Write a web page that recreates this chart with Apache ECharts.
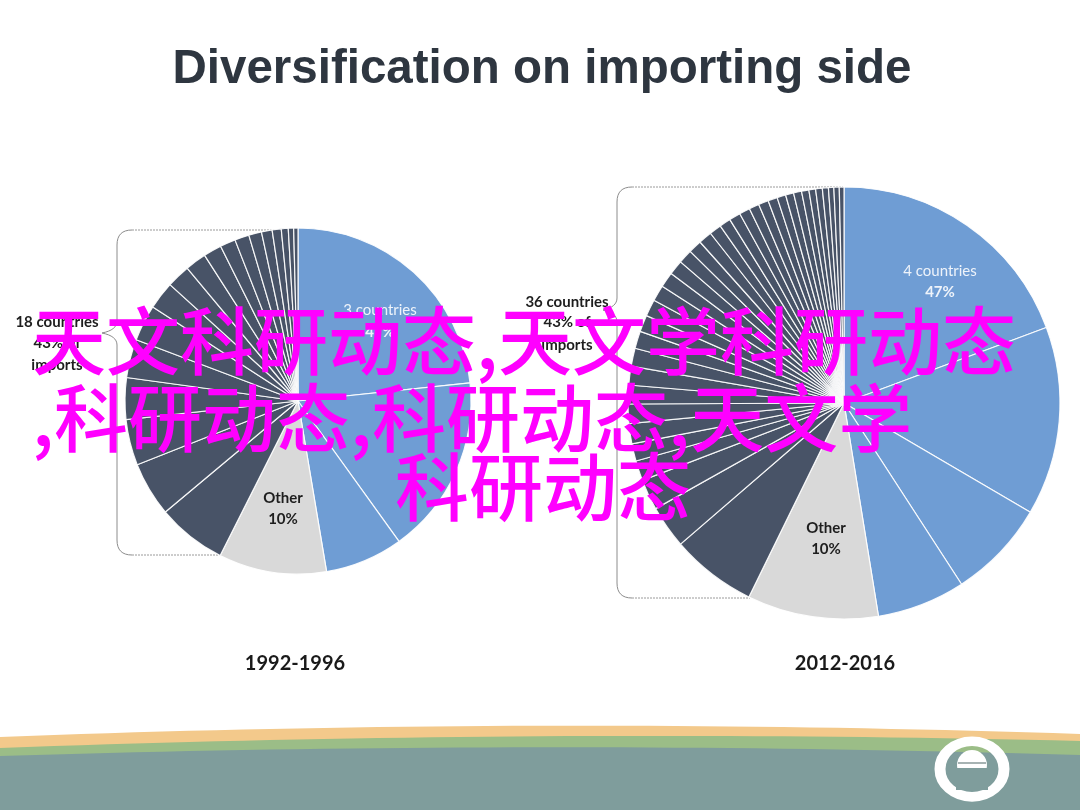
<!DOCTYPE html>
<html>
<head>
<meta charset="utf-8">
<script src="https://cdn.jsdelivr.net/npm/echarts@6/dist/echarts.min.js"></script>
<style>
  html, body { margin: 0; padding: 0; background: #ffffff; }
  #chart { width: 1080px; height: 810px; }
</style>
</head>
<body>
<div id="chart"></div>
<script>
// ---- Data (shares of imports, %) ----
const titleText = 'Diversification on importing side';
const periods = ['1992-1996', '2012-2016'];

// 1992-1996: top 3 countries (47%), Other (10%), 18 countries (43%)
const left_top = [23.4, 16.8, 7.3];
const left_other = [10.1];
const left_rest = [6.5, 5.1, 4.3, 3.9, 3.6, 3.4, 2.6, 2.2, 2.0, 1.7, 1.45, 1.35, 1.2, 1.0, 0.85, 0.65, 0.5, 0.4];

// 2012-2016: top 4 countries (47%), Other (10%), 36 countries (43%)
const right_top = [19.3, 14.1, 7.4, 6.6];
const right_other = [9.8];
const right_rest = [6.4, 3.2, 2.3, 1.5, 1.3, 1.5, 1.45, 1.4, 1.4, 1.35, 1.3, 1.25, 1.25, 1.2, 1.15, 1.1, 1.05, 1.0, 1.0, 0.9, 0.85, 0.85, 0.8, 0.75, 0.75, 0.7, 0.65, 0.6, 0.6, 0.55, 0.5, 0.5, 0.45, 0.4, 0.4, 0.35];

const leftLabels = { top: ['3 countries', '47%'], other: ['Other', '10%'], rest: ['18 countries', '43% of', 'imports'] };
const rightLabels = { top: ['4 countries', '47%'], other: ['Other', '10%'], rest: ['36 countries', '43% of', 'imports'] };

const watermark = ['天文科研动态,天文学科研动态', ',科研动态,科研动态,天文学', '科研动态'];

// ---- Styles ----
const BLUE = '#6f9dd4', GRAY = '#d9d9d9', DARK = '#485367';

function buildData(top, other, rest) {
  const d = [];
  top.forEach((v, i) => d.push({ name: 'top' + i, value: v, itemStyle: { color: BLUE } }));
  other.forEach((v, i) => d.push({ name: 'other' + i, value: v, itemStyle: { color: GRAY } }));
  rest.forEach((v, i) => d.push({ name: 'rest' + i, value: v, itemStyle: { color: DARK } }));
  return d;
}

function pieSeries(center, radius, data) {
  return {
    type: 'pie',
    center: center,
    radius: radius,
    startAngle: 90,
    clockwise: true,
    silent: true,
    label: { show: false },
    labelLine: { show: false },
    itemStyle: { borderColor: 'rgba(255,255,255,0.9)', borderWidth: 1.2 },
    emphasis: { disabled: true },
    data: data
  };
}

const LAT = 'Lato, "Open Sans", sans-serif';
const WM = '500 74px "Noto Sans CJK SC", sans-serif';

function txt(x, y, text, opt) {
  return {
    type: 'text', x: x, y: y, z: 10,
    style: Object.assign({
      text: text, fill: '#1e1e1e', font: 'bold 15px ' + LAT,
      textAlign: 'center', textVerticalAlign: 'middle'
    }, opt || {})
  };
}

// quadratic curve sampler for decorative shapes
function quad(p0, c, p1, n) {
  const pts = [];
  for (let i = 0; i <= n; i++) {
    const t = i / n, u = 1 - t;
    pts.push([u * u * p0[0] + 2 * u * t * c[0] + t * t * p1[0], u * u * p0[1] + 2 * u * t * c[1] + t * t * p1[1]]);
  }
  return pts;
}
function band(yl, yc, yr, color, z) {
  const pts = quad([0, yl], [540, yc], [1080, yr], 40).concat([[1080, 810], [0, 810]]);
  return { type: 'polygon', z: z, shape: { points: pts }, style: { fill: color } };
}
function bracket(x, yTop, yBot, tipX, tipY, r) {
  let pts = [];
  pts = pts.concat(quad([x + r, yTop], [x, yTop], [x, yTop + r], 8));
  pts = pts.concat(quad([x, tipY - 12], [x, tipY - 3], [tipX, tipY], 8));
  pts = pts.concat(quad([tipX, tipY], [x, tipY + 3], [x, tipY + 12], 8));
  pts = pts.concat(quad([x, yBot - r], [x, yBot], [x + r, yBot], 8));
  return { type: 'polyline', z: 0, shape: { points: pts }, style: { fill: null, stroke: '#8c8c8c', lineWidth: 1 } };
}
function dotted(x1, y1, x2, y2) {
  return { type: 'line', z: 0, shape: { x1: x1, y1: y1, x2: x2, y2: y2 }, style: { stroke: '#9a9a9a', lineWidth: 1, lineDash: [2, 1] } };
}

const graphics = [
  band(737, 716, 734, '#f3c98b', 1),
  band(748, 728, 741, '#9bbd87', 2),
  band(756, 739, 755, '#7f9d9c', 3),
  // logo
  { type: 'circle', z: 4, x: 972, y: 769, scaleY: 0.87, shape: { cx: 0, cy: 0, r: 32 }, style: { fill: null, stroke: '#ffffff', lineWidth: 11 } },
  { type: 'circle', z: 5, shape: { cx: 972, cy: 765, r: 15 }, style: { fill: '#ffffff' } },
  { type: 'rect', z: 5, shape: { x: 956, y: 768, width: 32, height: 22 }, style: { fill: '#7f9d9c' } },
  { type: 'line', z: 6, shape: { x1: 958, y1: 763, x2: 986, y2: 763 }, style: { stroke: '#8a9a9a', lineWidth: 1.5 } },

  bracket(117, 230, 555, 102, 333, 15),
  dotted(132, 230, 298, 230),
  dotted(132, 555, 218, 555),
  bracket(617, 187, 598, 603, 310, 15),
  dotted(632, 187, 843, 187),
  dotted(632, 598, 750, 598),

  txt(542, 70, titleText, { font: 'bold 47.5px "Liberation Sans", Arial, sans-serif', fill: '#2e3640' }),

  txt(380, 310, leftLabels.top[0], { fill: '#eef3fa', font: '15px ' + LAT }),
  txt(380, 332, leftLabels.top[1], { fill: '#eef3fa', font: 'bold 15px ' + LAT }),
  txt(283, 498, leftLabels.other[0]),
  txt(283, 519, leftLabels.other[1]),
  txt(57, 322, leftLabels.rest[0]),
  txt(57, 343, leftLabels.rest[1]),
  txt(57, 365, leftLabels.rest[2]),
  txt(940, 271, rightLabels.top[0], { fill: '#eef3fa', font: '15px ' + LAT }),
  txt(940, 292, rightLabels.top[1], { fill: '#eef3fa', font: 'bold 15px ' + LAT }),
  txt(826, 528, rightLabels.other[0]),
  txt(826, 549, rightLabels.other[1]),
  txt(567, 302, rightLabels.rest[0]),
  txt(567, 322, rightLabels.rest[1]),
  txt(567, 345, rightLabels.rest[2]),

  txt(295, 664, periods[0], { font: 'bold 20px ' + LAT, fill: '#1a1a1a' }),
  txt(845, 664, periods[1], { font: 'bold 20px ' + LAT, fill: '#1a1a1a' }),

  txt(32, 341, watermark[0], { font: WM, fill: '#ff00ff', textAlign: 'left' }),
  txt(32, 418, watermark[1], { font: WM, fill: '#ff00ff', textAlign: 'left' }),
  txt(543, 487, watermark[2], { font: WM, fill: '#ff00ff' })
];

const chart = echarts.init(document.getElementById('chart'), null, { renderer: 'canvas' });
chart.setOption({
  backgroundColor: '#ffffff',
  animation: false,
  series: [
    pieSeries([298, 401], 173, buildData(left_top, left_other, left_rest)),
    pieSeries([844, 403], 216, buildData(right_top, right_other, right_rest))
  ],
  graphic: graphics
});
</script>
</body>
</html>
